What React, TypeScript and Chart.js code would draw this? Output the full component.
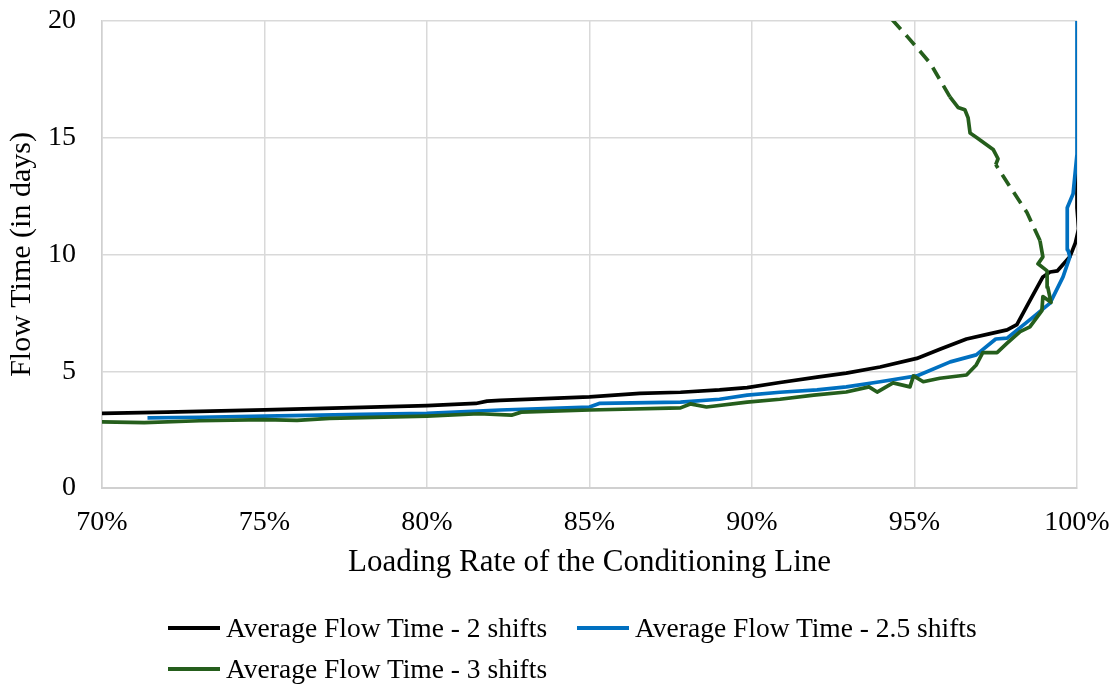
import React, { useEffect, useRef } from "react";
import { Chart, registerables } from "chart.js";

Chart.register(...registerables);

// ---- Data (x = loading rate in %, y = flow time in days) ----
const seriesLabels = [
  "Average Flow Time - 2 shifts",
  "Average Flow Time - 2.5 shifts",
  "Average Flow Time - 3 shifts",
];
const seriesColors = ["#000000", "#0070C0", "#255E1C"];

const shifts2X = [70, 72, 75, 78, 80, 81.5, 81.85, 82.25, 85, 86.55, 87.8, 89.0, 89.85, 90.86, 92.0, 92.9, 93.94, 95.07, 95.8, 96.6, 97.3, 97.85, 98.15, 98.5, 98.95, 99.17, 99.4, 99.78, 99.95, 100.05, 100, 100];
const shifts2Y = [3.2, 3.25, 3.35, 3.45, 3.53, 3.62, 3.72, 3.75, 3.9, 4.05, 4.1, 4.2, 4.3, 4.52, 4.75, 4.92, 5.18, 5.55, 5.95, 6.38, 6.6, 6.77, 7.0, 7.9, 9.04, 9.25, 9.3, 9.9, 10.5, 11.1, 12.0, 14.1];

const shifts25X = [71.4, 73, 75, 78, 80, 82.25, 85, 85.3, 87.8, 89.0, 89.85, 90.86, 92.0, 92.9, 93.94, 95.07, 96.1, 96.9, 97.5, 97.85, 98.65, 99.17, 99.57, 99.78, 99.72, 99.7, 99.88, 100, 100];
const shifts25Y = [3.0, 3.03, 3.08, 3.15, 3.2, 3.34, 3.47, 3.62, 3.68, 3.8, 3.98, 4.1, 4.2, 4.33, 4.55, 4.8, 5.4, 5.7, 6.38, 6.42, 7.32, 7.92, 9.04, 9.9, 10.2, 12.0, 12.6, 14.3, 20];

const shifts3X = [70, 71.3, 73, 75, 76, 77, 80, 81.6, 82.6, 82.9, 85, 87.8, 88.1, 88.6, 89.85, 90.86, 91.9, 92.9, 93.6, 93.85, 94.34, 94.86, 94.97, 95.27, 95.78, 96.6, 96.9, 97.1, 97.54, 97.85, 98.25, 98.55, 98.92, 98.95, 99.2, 99.1, 99.08, 98.8, 98.95, 98.86, 98.46, 97.94, 97.5, 97.57, 97.42, 96.92, 96.71, 96.65, 96.55, 96.34, 96.09, 95.48, 94.8, 93.9];
const shifts3Y = [2.83, 2.8, 2.88, 2.93, 2.9, 2.98, 3.08, 3.18, 3.12, 3.25, 3.34, 3.43, 3.6, 3.47, 3.68, 3.8, 3.98, 4.11, 4.33, 4.11, 4.5, 4.33, 4.8, 4.55, 4.7, 4.84, 5.27, 5.8, 5.8, 6.2, 6.7, 6.9, 7.6, 8.2, 7.95, 8.6, 9.3, 9.6, 9.9, 10.6, 11.8, 12.9, 13.85, 14.1, 14.5, 15.0, 15.2, 15.85, 16.2, 16.3, 16.75, 18.2, 19.3, 20.7];

const xTicks = [70, 75, 80, 85, 90, 95, 100];
const yTicks = [0, 5, 10, 15, 20];

const xTitle = "Loading Rate of the Conditioning Line";
const yTitle = "Flow Time (in days)";

const toPoints = (xs: number[], ys: number[]) => xs.map((x, i) => ({ x, y: ys[i] }));

// Index where the 3-shift curve turns back (upper branch drawn dashed)
const shifts3TurnIndex = shifts3Y.findIndex((y) => y >= 10);

const FONT = "'Liberation Serif', 'Times New Roman', serif";

export default function App() {
  const canvasRef = useRef<HTMLCanvasElement | null>(null);

  useEffect(() => {
    if (!canvasRef.current) return;
    const chart = new Chart(canvasRef.current, {
      type: "scatter",
      data: {
        datasets: [
          {
            label: seriesLabels[0],
            data: toPoints(shifts2X, shifts2Y),
            borderColor: seriesColors[0],
            backgroundColor: seriesColors[0],
            showLine: true,
            borderWidth: 3.7,
            pointRadius: 0,
            borderJoinStyle: "round",
            order: 3,
          },
          {
            label: seriesLabels[1],
            data: toPoints(shifts25X, shifts25Y),
            borderColor: seriesColors[1],
            backgroundColor: seriesColors[1],
            showLine: true,
            borderWidth: 3.7,
            pointRadius: 0,
            borderJoinStyle: "round",
            order: 2,
          },
          {
            label: seriesLabels[2],
            data: toPoints(shifts3X, shifts3Y),
            borderColor: seriesColors[2],
            backgroundColor: seriesColors[2],
            showLine: true,
            borderWidth: 3.7,
            pointRadius: 0,
            borderJoinStyle: "round",
            order: 1,
            segment: {
              borderDash: (ctx: any) => {
                if (ctx.p1DataIndex < shifts3TurnIndex) return undefined;
                const dx = ctx.p1.x - ctx.p0.x;
                const dy = ctx.p1.y - ctx.p0.y;
                return Math.sqrt(dx * dx + dy * dy) > 24 ? [13, 8] : undefined;
              },
            },
          } as any,
        ],
      },
      options: {
        responsive: false,
        animation: false,
        layout: { padding: { left: 0, right: 39, top: 21, bottom: 104 } },
        plugins: {
          legend: { display: false },
          tooltip: { enabled: false },
        },
        scales: {
          x: {
            type: "linear",
            min: 70,
            max: 100,
            afterFit: (scale: any) => {
              scale.height = 97;
              scale.paddingLeft = 0;
              scale.paddingRight = 0;
            },
            afterBuildTicks: (scale: any) => {
              scale.ticks = xTicks.map((v) => ({ value: v }));
            },
            ticks: {
              autoSkip: false,
              maxRotation: 0,
              padding: 18,
              color: "#000",
              font: { family: FONT, size: 28 },
              callback: (v: any) => `${v}%`,
            },
            grid: { color: "#d9d9d9", lineWidth: 1.5, drawTicks: false },
            border: { color: "#d0d0d0", width: 2 },
            title: {
              display: true,
              text: xTitle,
              color: "#000",
              font: { family: FONT, size: 31 },
            },
          },
          y: {
            type: "linear",
            min: 0,
            max: 20,
            afterFit: (scale: any) => {
              scale.width = 102;
              scale.paddingTop = 0;
              scale.paddingBottom = 0;
            },
            afterBuildTicks: (scale: any) => {
              scale.ticks = yTicks.map((v) => ({ value: v }));
            },
            ticks: {
              padding: 26,
              color: "#000",
              font: { family: FONT, size: 28 },
            },
            grid: { color: "#d9d9d9", lineWidth: 1.5, drawTicks: false },
            border: { color: "#d0d0d0", width: 1.5 },
            title: {
              display: true,
              text: yTitle,
              color: "#000",
              font: { family: FONT, size: 30 },
            },
          },
        },
      },
    });
    return () => chart.destroy();
  }, []);

  const legendItems = [
    { i: 0, left: 168, top: 613 },
    { i: 1, left: 577, top: 613 },
    { i: 2, left: 168, top: 654 },
  ];

  return (
    <div style={{ position: "absolute", left: 0, top: 0, width: 1116, height: 689, background: "#fff" }}>
      <canvas ref={canvasRef} width={1116} height={689} style={{ width: 1116, height: 689, display: "block" }} />
      {legendItems.map((it) => (
        <div
          key={it.i}
          style={{
            position: "absolute",
            left: it.left,
            top: it.top,
            height: 30,
            display: "flex",
            alignItems: "center",
            fontFamily: FONT,
            fontSize: 27.5,
            lineHeight: "30px",
            color: "#000",
            whiteSpace: "nowrap",
          }}
        >
          <span style={{ display: "inline-block", width: 52, height: 4, background: seriesColors[it.i], marginRight: 6 }} />
          <span>{seriesLabels[it.i]}</span>
        </div>
      ))}
    </div>
  );
}
